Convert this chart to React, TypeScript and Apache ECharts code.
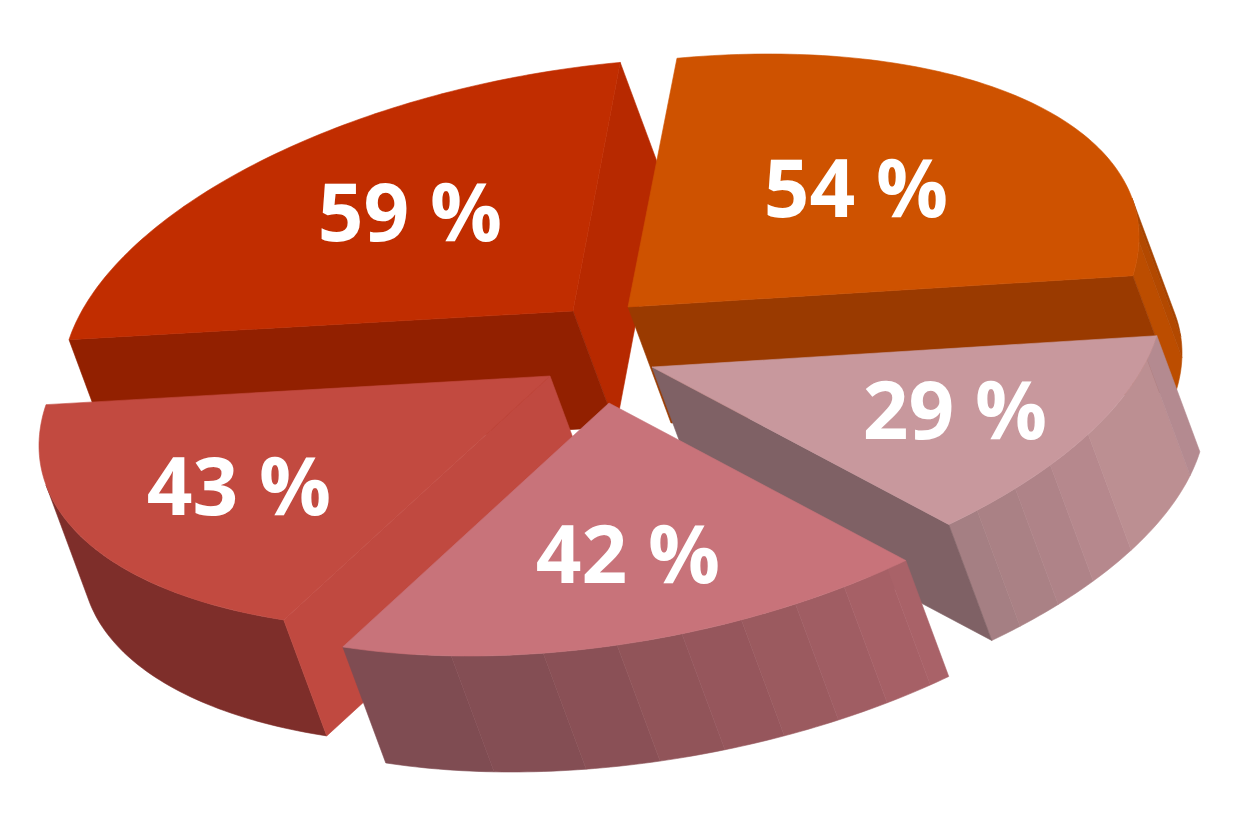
import React, { useEffect, useRef } from "react";
import * as echarts from "echarts";

// chart values, in paint order (back to front)
const sliceValues = [59, 54, 29, 43, 42];
const valueSuffix = " %";

// drawing model of the tilted pie: an apex per slice, an angle range on a shared ellipse
const rimA = 511;
const rimB = 253;
const rimPhase = 16;
const depth = [43, 116];
const sliceShapes = [
  { apex: [573, 311], from: 84.7, to: 170.5, top: "#C12D00", cuts: [{ at: 84.7, color: "#B72900" }, { at: 170.5, color: "#922000" }], facets: [], label: [410, 209] },
  { apex: [628, 307], from: -8.9, to: 84.5, top: "#CE5200", cuts: [{ at: -8.9, color: "#9A3A00" }], facets: [{ from: -8.9, to: -1, color: "#BC4D00" }, { from: -1, to: 4, color: "#B34900" }, { from: 4, to: 9.53, color: "#A84400" }], label: [856, 185] },
  { apex: [652, 367], from: 305.5, to: 351.1, top: "#C8989D", cuts: [{ at: 305.5, color: "#7F6165" }], facets: [
    { from: 305.5, to: 309.5, color: "#A57F83" }, { from: 309.5, to: 315.3, color: "#AA8185" }, { from: 315.3, to: 321.2, color: "#AF8388" },
    { from: 321.2, to: 328.6, color: "#B6888D" }, { from: 328.6, to: 345.7, color: "#BC8F92" }, { from: 345.7, to: 351.1, color: "#B48A90" }], label: [955, 407] },
  { apex: [550, 376], from: 170.5, to: 238.6, top: "#C24A40", cuts: [{ at: 238.6, color: "#C04940" }], facets: [{ from: 189.53, to: 238.6, color: "#7E2E2A" }], label: [239, 483] },
  { apex: [609, 403], from: 238.6, to: 305.5, top: "#C8737A", cuts: [], facets: [
    { from: 238.6, to: 252, color: "#7F4C52" }, { from: 252, to: 262.6, color: "#844E54" }, { from: 262.6, to: 270.9, color: "#8A5056" },
    { from: 270.9, to: 278.2, color: "#915459" }, { from: 278.2, to: 285, color: "#96565C" }, { from: 285, to: 291.4, color: "#9B5A5F" },
    { from: 291.4, to: 297.4, color: "#A05D63" }, { from: 297.4, to: 303, color: "#A66066" }, { from: 303, to: 305.5, color: "#A96268" }], label: [628, 551] },
];

function rimPoint(apex: number[], deg: number, shift = 0): number[] {
  const rad = Math.PI / 180;
  return [
    apex[0] + rimA * Math.cos(deg * rad) + depth[0] * shift,
    apex[1] - rimB * Math.sin((deg + rimPhase) * rad) + depth[1] * shift,
  ];
}

function rimArc(apex: number[], from: number, to: number, shift = 0): number[][] {
  const steps = Math.max(2, Math.ceil(Math.abs(to - from)));
  const pts: number[][] = [];
  for (let i = 0; i <= steps; i++) pts.push(rimPoint(apex, from + ((to - from) * i) / steps, shift));
  return pts;
}

function poly(points: number[][], color: string) {
  return { type: "polygon", shape: { points }, style: { fill: color, stroke: color, lineWidth: 0.6 } };
}

function renderSlice(params: any, api: any) {
  const shape = sliceShapes[params.dataIndex];
  const children: any[] = [];
  shape.facets.forEach((f) => {
    children.push(poly([...rimArc(shape.apex, f.from, f.to), ...rimArc(shape.apex, f.from, f.to, 1).reverse()], f.color));
  });
  shape.cuts.forEach((c) => {
    const p = rimPoint(shape.apex, c.at);
    const q = rimPoint(shape.apex, c.at, 1);
    children.push(poly([shape.apex, p, q, [shape.apex[0] + depth[0], shape.apex[1] + depth[1]]], c.color));
  });
  children.push(poly([shape.apex, ...rimArc(shape.apex, shape.from, shape.to)], shape.top));
  children.push({
    type: "text",
    z2: 10,
    style: {
      text: `${api.value(0)}${valueSuffix}`,
      x: shape.label[0],
      y: shape.label[1],
      align: "center",
      verticalAlign: "middle",
      fill: "#FFFFFF",
      font: 'bold 80px "Open Sans"',
    },
  });
  return { type: "group", children };
}

export default function App() {
  const ref = useRef<HTMLDivElement>(null);
  useEffect(() => {
    document.body.style.margin = "0";
    const chart = echarts.init(ref.current!, null, { renderer: "svg" });
    chart.setOption({
      animation: false,
      backgroundColor: "#FFFFFF",
      series: [
        {
          type: "custom",
          coordinateSystem: "none",
          renderItem: renderSlice,
          data: sliceValues.map((v) => [v]),
          silent: true,
        },
      ],
    });
    return () => chart.dispose();
  }, []);
  return <div ref={ref} style={{ width: 1240, height: 827 }} />;
}
